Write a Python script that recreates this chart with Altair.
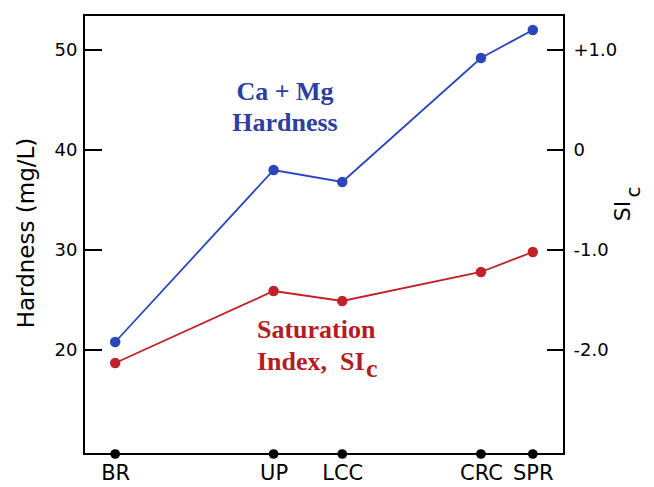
import altair as alt
import pandas as pd

sites = ["BR", "UP", "LCC", "CRC", "SPR"]
site_pos = [6.5, 39.5, 53.8, 82.7, 93.5]
hardness = [20.8, 38.0, 36.8, 49.2, 52.0]
si_c = [-2.13, -1.41, -1.51, -1.22, -1.02]

left_ticks = [20, 30, 40, 50]
right_ticks = [1.0, 0.0, -1.0, -2.0]

W, H = 480, 439
BLUE = "#2B46BB"
RED = "#BF2228"
BLUE_TXT = "#2C3FA0"
RED_TXT = "#B51C22"

df = pd.DataFrame({"site": sites, "pos": site_pos, "hard": hardness, "si": si_c})
lt = pd.DataFrame({"v": left_ticks})
rt = pd.DataFrame({"v": right_ticks})

xscale = alt.Scale(domain=[0, 100])
yL = alt.Scale(domain=[9.6, 53.5])
yR = alt.Scale(domain=[-3.04, 1.35])

label_map = "{" + ",".join(f"'{p}':'{s}'" for p, s in zip(site_pos, sites)) + "}"

x_enc = alt.X("pos:Q", scale=xscale,
              axis=alt.Axis(values=site_pos, labelExpr=f"{label_map}[toString(datum.value)]",
                            ticks=False, domain=False, grid=False, labelFontSize=21,
                            labelFont="DejaVu Sans", labelColor="black", labelPadding=8,
                            title=None, labelFlush=False))

yL_axis = alt.Axis(values=left_ticks, ticks=False, domain=False, grid=False,
                   labelFontSize=18, labelFont="DejaVu Sans", labelColor="black",
                   labelPadding=7, title=None)
yR_axis = alt.Axis(values=right_ticks, orient="right", ticks=False, domain=False, grid=False,
                   labelFontSize=18, labelFont="DejaVu Sans", labelColor="black",
                   labelPadding=9, title=None,
                   labelExpr="datum.value > 0 ? '+' + format(datum.value, '.1f') : (datum.value == 0 ? '0' : '-' + format(abs(datum.value), '.1f'))")

# left-scale layers
blue_line = alt.Chart(df).mark_line(color=BLUE, strokeWidth=1.8).encode(
    x=x_enc, y=alt.Y("hard:Q", scale=yL, axis=yL_axis))
blue_pts = alt.Chart(df).mark_circle(color=BLUE, size=110, opacity=1).encode(
    x=alt.X("pos:Q", scale=xscale), y=alt.Y("hard:Q", scale=yL))
lticks = alt.Chart(lt).mark_rule(color="black", strokeWidth=2).encode(
    x=alt.value(0), x2=alt.value(18), y=alt.Y("v:Q", scale=yL))
base_dots = alt.Chart(df).mark_circle(color="black", size=95, opacity=1).encode(
    x=alt.X("pos:Q", scale=xscale), y=alt.value(H))

left = alt.layer(blue_line, blue_pts, lticks, base_dots)

# right-scale layers
red_line = alt.Chart(df).mark_line(color=RED, strokeWidth=1.8).encode(
    x=alt.X("pos:Q", scale=xscale), y=alt.Y("si:Q", scale=yR, axis=yR_axis))
red_pts = alt.Chart(df).mark_circle(color=RED, size=110, opacity=1).encode(
    x=alt.X("pos:Q", scale=xscale), y=alt.Y("si:Q", scale=yR))
rticks = alt.Chart(rt).mark_rule(color="black", strokeWidth=2).encode(
    x=alt.value(W - 17), x2=alt.value(W), y=alt.Y("v:Q", scale=yR))

right = alt.layer(red_line, red_pts, rticks)

one = pd.DataFrame({"a": [0]})
serif = "Liberation Serif"
txt = []
txt.append(alt.Chart(one).mark_text(text=["Ca + Mg", "Hardness"], font=serif, fontWeight="bold",
                                    fontSize=26, color=BLUE_TXT, align="center", baseline="alphabetic",
                                    lineHeight=31).encode(x=alt.value(201), y=alt.value(85)))
txt.append(alt.Chart(one).mark_text(text="Saturation", font=serif, fontWeight="bold", fontSize=26,
                                    color=RED_TXT, align="left", baseline="alphabetic").encode(
    x=alt.value(173), y=alt.value(323)))
txt.append(alt.Chart(one).mark_text(text="Index,\u00a0\u00a0SI", font=serif, fontWeight="bold", fontSize=26,
                                    color=RED_TXT, align="left", baseline="alphabetic").encode(
    x=alt.value(173), y=alt.value(355)))
txt.append(alt.Chart(one).mark_text(text="c", font=serif, fontWeight="bold", fontSize=26,
                                    color=RED_TXT, align="left", baseline="alphabetic").encode(
    x=alt.value(282), y=alt.value(362)))
txt.append(alt.Chart(one).mark_text(text="Hardness (mg/L)", font="DejaVu Sans", fontSize=23,
                                    color="black", align="center", baseline="middle", angle=270).encode(
    x=alt.value(-57), y=alt.value(218)))
txt.append(alt.Chart(one).mark_text(text="SI", font="DejaVu Sans", fontSize=22,
                                    color="black", align="center", baseline="middle", angle=270).encode(
    x=alt.value(539), y=alt.value(196)))
txt.append(alt.Chart(one).mark_text(text="c", font="DejaVu Sans", fontSize=20,
                                    color="black", align="center", baseline="middle", angle=270).encode(
    x=alt.value(550), y=alt.value(177)))

chart = alt.layer(left, right, *txt).resolve_scale(y="independent").properties(
    width=W, height=H,
    autosize=alt.AutoSizeParams(type="none"),
    padding={"left": 76, "top": 7, "right": 82, "bottom": 32},
).configure_view(stroke="black", strokeWidth=2).configure_axis(grid=False)

chart.save("out.html", embed_options={"renderer": "svg", "actions": False})
